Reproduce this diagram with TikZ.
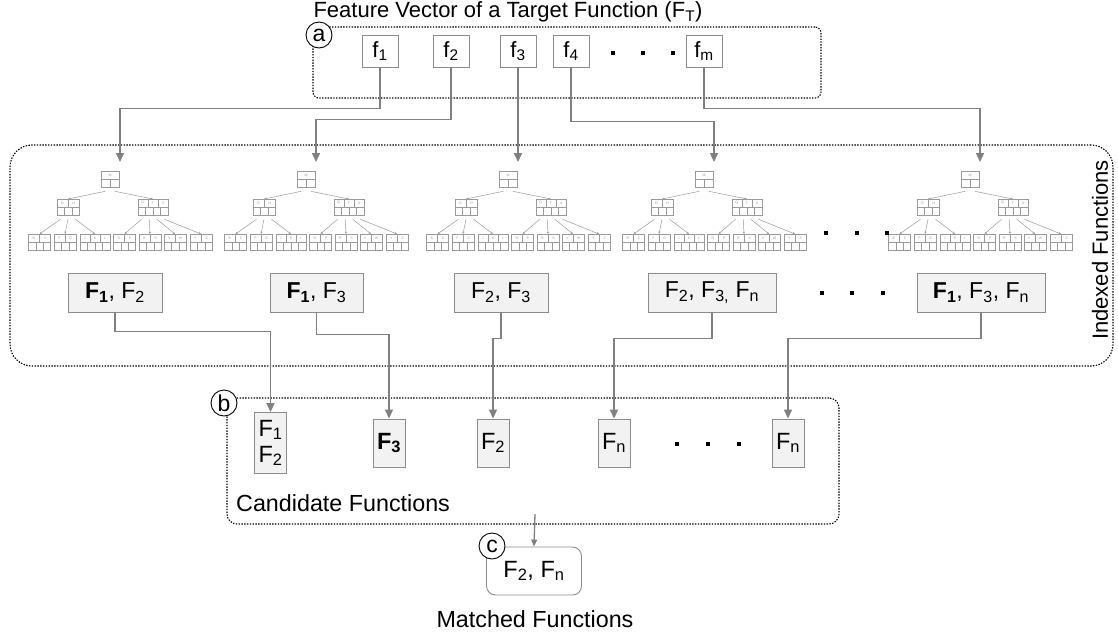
\documentclass[tikz,border=0pt]{standalone}
\usepackage{fontspec}
\setmainfont{Liberation Sans}
\usetikzlibrary{arrows.meta,calc}

\definecolor{linegray}{HTML}{808080}
\definecolor{boxgray}{HTML}{8C8C8C}
\definecolor{fillgray}{HTML}{F2F2F2}
\definecolor{treegray}{HTML}{9A9A9A}

\tikzset{
  txt/.style={font=\fontsize{22}{26}\selectfont, inner sep=0pt},
  bigtxt/.style={font=\fontsize{23.3}{27}\selectfont, inner sep=0pt},
  dotbox/.style={draw=black, line width=1.1pt, dash pattern=on 1.4pt off 1.4pt, inner sep=0pt},
  tag/.style={draw=black, line width=0.9pt, fill=white, circle, minimum size=26pt, inner sep=0pt, font=\fontsize{23}{26}\selectfont},
  featbox/.style={draw=boxgray, line width=0.9pt, fill=white, minimum width=36pt, minimum height=32pt, inner sep=0pt, font=\fontsize{22}{26}\selectfont},
  setbox/.style={draw=boxgray, line width=0.9pt, fill=fillgray, minimum height=39pt, inner sep=0pt, font=\fontsize{23}{27}\selectfont},
  candbox/.style={draw=boxgray, line width=0.9pt, fill=fillgray, minimum width=32pt, inner sep=0pt, align=center, font=\fontsize{23.5}{27}\selectfont},
  conn/.style={draw=linegray, line width=1.5pt, -{Triangle[length=9pt,width=8pt]}},
  smallconn/.style={draw=linegray, line width=1.3pt, -{Triangle[length=7pt,width=6pt]}},
  sqdot/.style={fill=black, minimum size=4pt, inner sep=0pt},
  bkey/.style={draw=treegray, line width=0.5pt, minimum height=16pt, inner sep=0pt, fill=white},
  treeline/.style={draw=treegray, line width=0.5pt},
  treearrow/.style={draw=treegray, line width=0.5pt, -{Stealth[length=2.5pt,width=2.2pt]}},
  keytext/.style={text=treegray, font=\fontsize{3.5}{4}\selectfont, inner sep=0pt},
}

% one B-tree node: name, centre x, top y, width, number of keys, keys
\newcommand\keynode[6]{%
  \node[bkey, minimum width=#4pt, anchor=north] (#1) at (#2,#3) {};
  \draw[treeline] (#1.west) -- (#1.east);
  \foreach \i in {1,...,#5} {
    \ifnum\i<#5
      \draw[treeline] ($(#1.north west)!{\i/#5}!(#1.north east)$) -- ($(#1.west)!{\i/#5}!(#1.east)$);
    \fi
    \draw[treeline] ($(#1.west)!{\i/(#5+1)}!(#1.east)$) -- ($(#1.south west)!{\i/(#5+1)}!(#1.south east)$);
  }
  \foreach \k [count=\i] in {#6}
    \node[keytext] at ($(#1.north west)!{(\i-0.5)/#5}!(#1.north east)+(0,4)$) {\k};
}
% child pointer: parent, pointer index, parent key count, child
\newcommand\keyptr[4]{%
  \draw[treearrow] ($(#1.west)!{(#2-0.5)/(#3+1)}!(#1.east)+(0,12)$) -- (#4.north);
}
% a whole B-tree below the entry point x = #2
\newcommand\btree[2]{%
  \pgfmathsetmacro\ax{#2}
  \keynode{#1r}{\ax-10}{171}{18}{1}{M}
  \keynode{#1a}{\ax-52}{199}{22}{2}{D,H}
  \keynode{#1b}{\ax+33}{199}{30}{3}{Q,T,X}
  \keynode{#1l1}{\ax-80.5}{234}{22}{2}{B,C}
  \keynode{#1l2}{\ax-55}{234}{22}{2}{F,G}
  \keynode{#1l3}{\ax-25}{234}{30}{3}{J,K,L}
  \keynode{#1l4}{\ax+4.5}{234}{22}{2}{N,P}
  \keynode{#1l5}{\ax+30}{234}{22}{2}{R,S}
  \keynode{#1l6}{\ax+55}{234}{22}{2}{V,W}
  \keynode{#1l7}{\ax+81}{234}{22}{2}{Y,Z}
  \keyptr{#1r}{1}{1}{#1a}
  \keyptr{#1r}{2}{1}{#1b}
  \keyptr{#1a}{1}{2}{#1l1}
  \keyptr{#1a}{2}{2}{#1l2}
  \keyptr{#1a}{3}{2}{#1l3}
  \keyptr{#1b}{1}{3}{#1l4}
  \keyptr{#1b}{2}{3}{#1l5}
  \keyptr{#1b}{3}{3}{#1l6}
  \keyptr{#1b}{4}{3}{#1l7}
}

\begin{document}
\begin{tikzpicture}[x=1pt, y=-1pt]
\useasboundingbox (0,0) rectangle (1118,638);

% ---- feature vector ----
\node[txt] (title) at (508,12) {Feature Vector of a Target Function (F\textsubscript{T})};
\node[dotbox, rounded corners=6pt, minimum width=508pt, minimum height=71pt] (fv) at (567,62.5) {};
\node[featbox] (f1) at (380,51) {f\textsubscript{1}};
\node[featbox] (f2) at (451,51) {f\textsubscript{2}};
\node[featbox] (f3) at (518,51) {f\textsubscript{3}};
\node[featbox] (f4) at (571,51) {f\textsubscript{4}};
\node[featbox] (fm) at (704,51) {f\textsubscript{m}};
\node[sqdot] (fd1) at (613,53) {};
\node[sqdot] (fd2) at (643,53) {};
\node[sqdot] (fd3) at (673,53) {};
\node[tag] (ta) at (319,35) {a};

% ---- indexed functions ----
\node[dotbox, rounded corners=22pt, minimum width=1103pt, minimum height=221pt] (idx) at (561.5,255.5) {};
\node[txt, rotate=90] (idxlabel) at (1100,250) {Indexed Functions};

\coordinate (in1) at (120,162);
\coordinate (in2) at (316,162);
\coordinate (in3) at (518,162);
\coordinate (in4) at (714,162);
\coordinate (in5) at (980,162);

\btree{ta}{120}
\btree{tb}{316}
\btree{tc}{518}
\btree{td}{714}
\btree{te}{980}

\node[sqdot] (td1) at (826,233) {};
\node[sqdot] (td2) at (857,233) {};
\node[sqdot] (td3) at (887,233) {};

\node[setbox, minimum width=94pt] (s1) at (115,292.5) {{\bfseries F\textsubscript{1}}, F\textsubscript{2}};
\node[setbox, minimum width=93pt] (s2) at (316.5,292.5) {{\bfseries F\textsubscript{1}}, F\textsubscript{3}};
\node[setbox, minimum width=94pt] (s3) at (501,292.5) {F\textsubscript{2}, F\textsubscript{3}};
\node[setbox, minimum width=128pt] (s4) at (712,292.5) {F\textsubscript{2}, F\textsubscript{3,} F\textsubscript{n}};
\node[setbox, minimum width=128pt] (s5) at (981,292.5) {{\bfseries F\textsubscript{1}}, F\textsubscript{3}, F\textsubscript{n}};
\node[sqdot] (sd1) at (822,293) {};
\node[sqdot] (sd2) at (852,293) {};
\node[sqdot] (sd3) at (883,293) {};

% ---- candidate functions ----
\node[dotbox, rounded corners=10pt, minimum width=612pt, minimum height=126pt] (cand) at (533,461) {};
\node[candbox, minimum height=61pt] (c1) at (270.5,443) {F\textsubscript{1}\\[-1pt]F\textsubscript{2}};
\node[candbox, minimum height=48pt] (c2) at (389,443) {\bfseries F\textsubscript{3}};
\node[candbox, minimum height=48pt] (c3) at (493,443) {F\textsubscript{2}};
\node[candbox, minimum height=48pt] (c4) at (614,443) {F\textsubscript{n}};
\node[candbox, minimum height=48pt] (c5) at (788,443) {F\textsubscript{n}};
\node[sqdot] (cd1) at (677,444) {};
\node[sqdot] (cd2) at (708,444) {};
\node[sqdot] (cd3) at (739,444) {};
\node[bigtxt, anchor=west] (candlabel) at (236,503) {Candidate Functions};
\node[tag] (tb) at (224,403) {b};

% ---- matched functions ----
\node[draw=boxgray, line width=0.9pt, fill=white, rounded corners=9pt, minimum width=95pt, minimum height=48pt, inner sep=0pt, font=\fontsize{23.5}{27}\selectfont] (match) at (534,571) {F\textsubscript{2}, F\textsubscript{n}};
\node[tag] (tc) at (492,546) {c};
\node[bigtxt] (matchlabel) at (535,619) {Matched Functions};
\coordinate (candout) at (535,514);

% ---- connectors ----
\draw[conn] (f1.south) -- ++(0,41) -| (in1);
\draw[conn] (f2.south) -- ++(0,52) -| (in2);
\draw[conn] (f3.south) -- (in3);
\draw[conn] (f4.south) -- ++(0,54) -| (in4);
\draw[conn] (fm.south) -- ++(0,41) -| (in5);

\draw[conn] (s1.south) -- ++(0,19) -| (c1.north);
\draw[conn] (s2.south) -- ++(0,22) -| (c2.north);
\draw[conn] (s3.south) -- ++(0,26) -| (c3.north);
\draw[conn] (s4.south) -- ++(0,26) -| (c4.north);
\draw[conn] (s5.south) -- ++(0,26) -| (c5.north);

\draw[smallconn] (candout) -- (match.north);
\end{tikzpicture}
\end{document}
